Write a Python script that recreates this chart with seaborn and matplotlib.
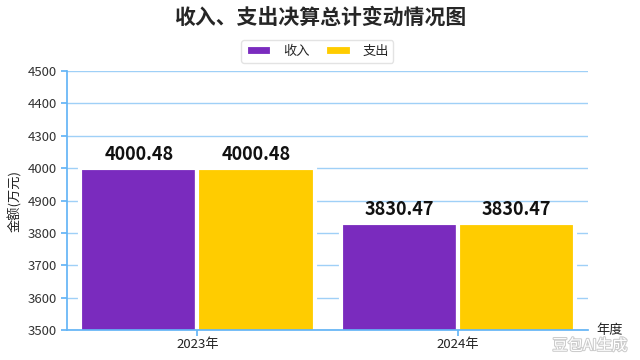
import numpy as np
import pandas as pd
import matplotlib
matplotlib.use("Agg")
import matplotlib.pyplot as plt
import matplotlib.patheffects as pe
import seaborn as sns

# chart data
years = ["2023年", "2024年"]
income = [4000.48, 3830.47]
expense = [4000.48, 3830.47]
series = ["收入", "支出"]
colors = ["#7A2BBE", "#FFCC00"]
ytick_values = [3500, 3600, 3700, 3800, 3900, 4000, 4100, 4200, 4300]
ytick_labels = ["3500", "3600", "3700", "3800", "4900", "4000", "4300", "4400", "4500"]

df = pd.DataFrame({
    "年度": years * 2,
    "金额": income + expense,
    "类型": [series[0]] * len(years) + [series[1]] * len(years),
})

sns.set_theme(style="white")
plt.rcParams["font.family"] = ["Noto Sans CJK SC", "DejaVu Sans"]

fig = plt.figure(figsize=(6.4, 3.6), dpi=100)
ax = fig.add_axes([0.105, 0.083, 0.814, 0.72])

sns.barplot(data=df, x="年度", y="金额", hue="类型", palette=colors, saturation=1,
            width=0.9, edgecolor="white", linewidth=3, ax=ax, legend=True)

for patch in ax.patches:
    patch.set_path_effects([pe.SimplePatchShadow(offset=(1.5, -1.5), alpha=0.15), pe.Normal()])

for cont in ax.containers:
    ax.bar_label(cont, fmt="%.2f", fontsize=13, fontweight="bold", padding=3, color="#111111")

ax.set_ylim(3500, 4300)
ax.set_xlim(-0.5, 1.5)
ax.set_yticks(ytick_values)
ax.set_yticklabels(ytick_labels)
ax.yaxis.grid(True, color="#9FD0F7", linewidth=1)
ax.set_axisbelow(True)

for s in ["top", "right"]:
    ax.spines[s].set_visible(False)
ax.spines["left"].set_color("#64B5F6")
ax.spines["bottom"].set_color("#64B5F6")
ax.tick_params(axis="y", colors="#64B5F6", labelcolor="#333333", labelsize=9.5, length=4, left=True)
ax.tick_params(axis="x", colors="#64B5F6", labelcolor="#222222", labelsize=9.5, length=4, bottom=True, pad=2)

ax.set_ylabel("金额(万元)", fontsize=9.5, color="#222222", labelpad=4)
ax.set_xlabel("")
ax.text(1.015, 0.0, "年度", transform=ax.transAxes, fontsize=9.5, color="#222222", va="center", ha="left")

fig.suptitle("收入、支出决算总计变动情况图", fontsize=15, fontweight="heavy", y=0.98)

handles, labels = ax.get_legend_handles_labels()
ax.legend(handles, labels, loc="center", bbox_to_anchor=(0.48, 1.075), ncol=2, frameon=True,
          fontsize=9.5, handlelength=2.0, handleheight=0.9, columnspacing=1.2, handletextpad=0.8,
          borderpad=0.35, edgecolor="#DDDDDD", fancybox=True)

txt = fig.text(0.98, 0.04, "豆包AI生成", ha="right", va="center", fontsize=11, color="white")
txt.set_path_effects([pe.withStroke(linewidth=1.5, foreground="#CCCCCC")])

fig.savefig("out.png", dpi=100)
